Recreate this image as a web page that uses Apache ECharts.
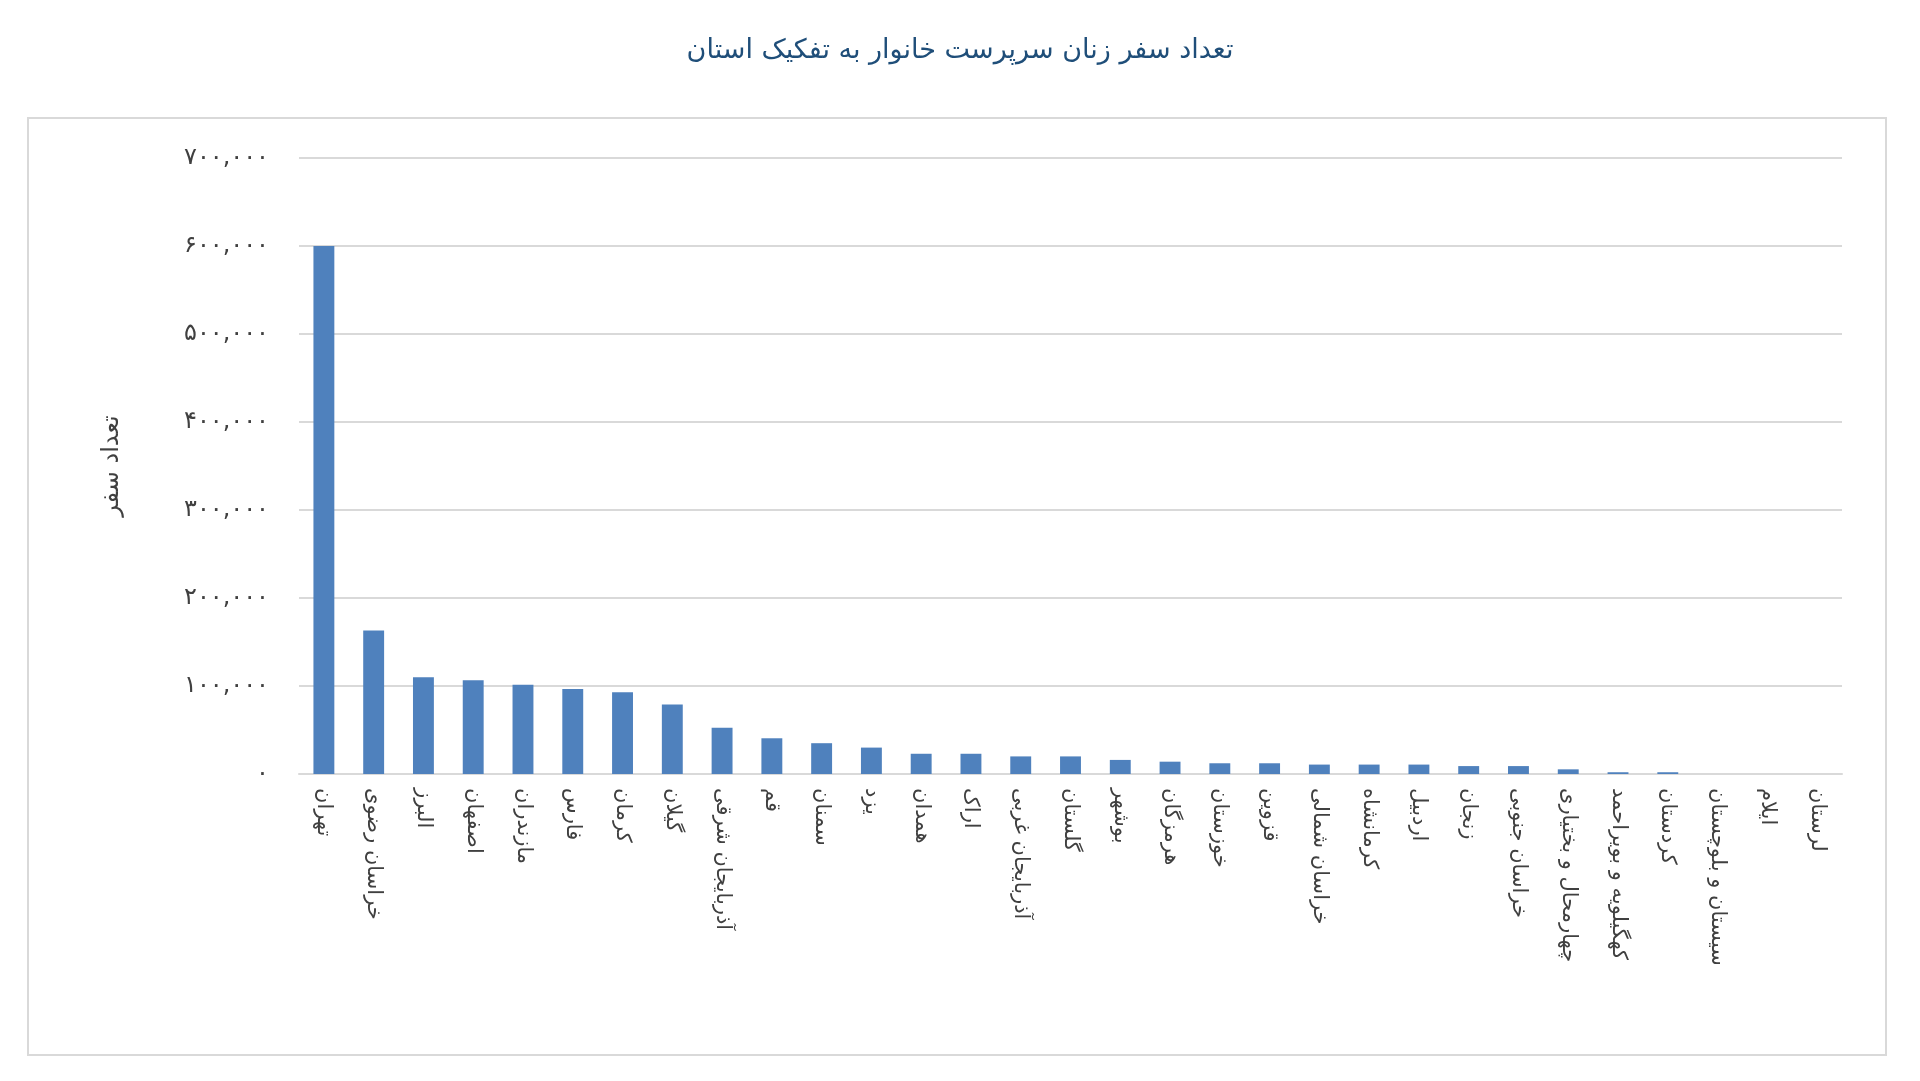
<!DOCTYPE html>
<html>
<head>
<meta charset="utf-8">
<script src="https://cdn.jsdelivr.net/npm/echarts@6/dist/echarts.min.js"></script>
<style>
html, body { margin: 0; padding: 0; background: #fff; }
#chart { width: 1920px; height: 1081px; }
#frame { position: absolute; left: 27px; top: 117px; width: 1860px; height: 939px; border: 2px solid #d9d9d9; box-sizing: border-box; pointer-events: none; }
</style>
</head>
<body>
<div id="chart"></div>
<div id="frame"></div>
<script>
// استان ها
const provinces = ['تهران', 'خراسان رضوی', 'البرز', 'اصفهان', 'مازندران', 'فارس', 'کرمان', 'گیلان',
    'آذربایجان شرقی', 'قم', 'سمنان', 'یزد', 'همدان', 'اراک', 'آذربایجان غربی', 'گلستان', 'بوشهر',
    'هرمزگان', 'خوزستان', 'قزوین', 'خراسان شمالی', 'کرمانشاه', 'اردبیل', 'زنجان', 'خراسان جنوبی',
    'چهارمحال و بختیاری', 'کهگیلویه و بویراحمد', 'کردستان', 'سیستان و بلوچستان', 'ایلام', 'لرستان'];
// تعداد سفر
const trips = [600000, 163000, 110000, 106500, 101500, 96500, 93000, 79000, 52500, 40600, 35000, 30000,
    23000, 23000, 20000, 20000, 16000, 14000, 12200, 12200, 10700, 10700, 10700, 9000, 9000, 5300,
    2000, 2000, 0, 0, 0];
const yTicks = [0, 100000, 200000, 300000, 400000, 500000, 600000, 700000];

function toFa(n) {
    const digits = '۰۱۲۳۴۵۶۷۸۹';
    return n.toLocaleString('en-US').replace(/\d/g, d => digits[d]);
}

const myChart = echarts.init(document.getElementById('chart'));
myChart.setOption({
    title: {
        text: 'تعداد سفر زنان سرپرست خانوار به تفکیک استان',
        left: 'center',
        top: 32,
        textStyle: { color: '#1f4e79', fontSize: 27, fontWeight: 'normal', fontFamily: 'DejaVu Sans' }
    },
    grid: { left: 299, right: 78, top: 158, bottom: 307 },
    xAxis: {
        type: 'category',
        data: provinces,
        axisLine: { lineStyle: { color: '#d9d9d9', width: 2 } },
        axisTick: { show: false },
        axisLabel: { rotate: -90, color: '#404040', fontSize: 21, fontFamily: 'DejaVu Sans', margin: 14, interval: 0 }
    },
    yAxis: {
        type: 'value',
        min: 0,
        max: yTicks[yTicks.length - 1],
        interval: 100000,
        name: 'تعداد سفر',
        nameLocation: 'middle',
        nameGap: 175,
        nameRotate: 90,
        nameTextStyle: { color: '#404040', fontSize: 24, fontFamily: 'DejaVu Sans' },
        axisLabel: { color: '#404040', fontSize: 24, fontFamily: 'DejaVu Sans', margin: 30, formatter: v => toFa(v) },
        splitLine: { lineStyle: { color: '#d9d9d9', width: 2 } }
    },
    series: [{
        type: 'bar',
        data: trips,
        barWidth: '42%',
        itemStyle: { color: '#4f81bd' }
    }]
});
</script>
</body>
</html>
